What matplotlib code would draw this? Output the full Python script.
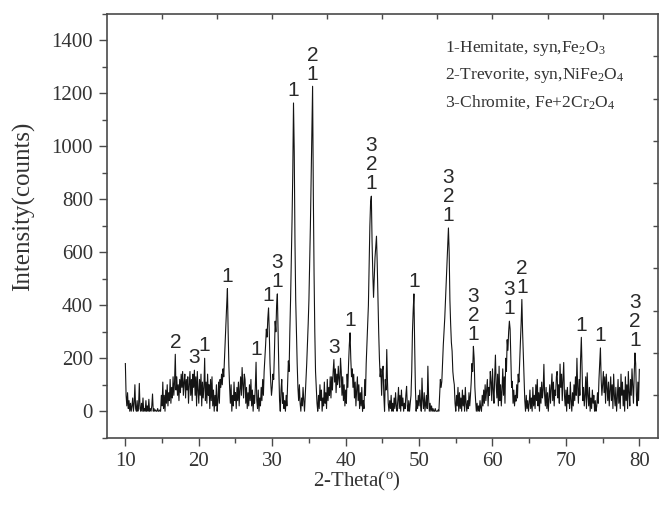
import numpy as np
import matplotlib
matplotlib.use("Agg")
import matplotlib.pyplot as plt
from matplotlib.ticker import MultipleLocator, NullFormatter

plt.rcParams["mathtext.fontset"] = "custom"
plt.rcParams["mathtext.rm"] = "Liberation Serif"
plt.rcParams["mathtext.it"] = "Liberation Serif"

# XRD scan: 2-theta from 10 to 80 degrees, step 0.1
two_theta = np.round(np.arange(100, 801) * 0.1, 1)

counts = [
    180, 60, 20, 70, 10, 40, 0, 30, 0, 20,            # 10
    50, 0, 30, 100, 10, 0, 40, 0, 20, 105,            # 11
    10, 0, 30, 0, 50, 0, 10, 0, 40, 0,                # 12
    20, 0, 45, 0, 10, 0, 20, 65, 0, 10,               # 13
    0, 5, 0, 0, 10, 0, 0, 5, 0, 60,                   # 14
    20, 110, 10, 60, 0, 80, 30, 100, 20, 70,          # 15
    40, 120, 30, 90, 50, 130, 60, 110, 215, 80,       # 16
    130, 60, 100, 40, 120, 70, 140, 90, 150, 60,      # 17
    110, 140, 50, 120, 80, 130, 30, 100, 150, 60,     # 18
    120, 40, 140, 90, 155, 60, 130, 20, 150, 80,      # 19
    30, 120, 60, 140, 20, 110, 50, 90, 200, 40,       # 20
    110, 30, 140, 60, 100, 10, 120, 40, 130, 20,      # 21
    80, 0, 60, 20, 100, 0, 40, 110, 30, 120,          # 22
    90, 140, 100, 160, 130, 200, 260, 330, 400, 463,  # 23
    300, 170, 90, 30, 100, 0, 60, 20, 110, 40,        # 24
    70, 10, 90, 40, 110, 20, 80, 130, 60, 165,        # 25
    100, 50, 140, 120, 30, 90, 10, 70, 20, 100,       # 26
    40, 120, 20, 80, 0, 60, 30, 90, 185, 40,          # 27
    10, 80, 0, 50, 20, 90, 40, 120, 60, 150,          # 28
    200, 250, 310, 280, 350, 390, 300, 180, 110, 60,  # 29
    90, 140, 120, 220, 340, 300, 400, 443, 290, 160,  # 30
    40, 0, 80, 120, 30, 70, 10, 40, 0, 60,            # 31
    20, 110, 190, 150, 300, 420, 560, 720, 900, 1164, # 32
    980, 640, 420, 300, 180, 90, 40, 100, 30, 0,      # 33
    50, 20, 90, 40, 0, 60, 120, 180, 250, 330,        # 34
    420, 560, 700, 880, 1080, 1227, 820, 520, 300, 150,  # 35
    90, 30, 0, 60, 10, 100, 40, 80, 0, 50,            # 36
    20, 110, 30, 70, 10, 120, 40, 90, 60, 130,        # 37
    50, 130, 80, 150, 195, 110, 160, 70, 140, 100,    # 38
    170, 120, 90, 200, 150, 60, 130, 40, 100, 20,     # 39
    80, 30, 140, 90, 180, 250, 296, 200, 130, 160,    # 40
    90, 140, 50, 110, 20, 80, 130, 40, 100, 10,       # 41
    70, 20, 90, 0, 40, 10, 120, 60, 180, 250,         # 42
    320, 400, 560, 700, 790, 812, 640, 520, 430, 500, # 43
    580, 620, 661, 560, 420, 300, 200, 130, 160, 60,  # 44
    150, 170, 60, 0, 120, 80, 233, 110, 30, 0,        # 45
    40, 10, 60, 0, 30, 0, 50, 10, 70, 20,             # 46
    0, 40, 90, 10, 60, 0, 80, 20, 50, 0,              # 47
    30, 10, 60, 94, 20, 0, 40, 0, 30, 60,             # 48
    150, 300, 380, 443, 250, 90, 0, 40, 10, 60,       # 49
    20, 80, 30, 0, 125, 40, 10, 70, 0, 30,            # 50
    60, 10, 170, 50, 0, 30, 0, 20, 0, 10,             # 51
    0, 0, 10, 0, 0, 0, 5, 0, 60, 120,                 # 52
    90, 113, 180, 250, 300, 352, 420, 480, 560, 630,  # 53
    692, 600, 420, 330, 260, 227, 150, 120, 100, 30,  # 54
    0, 60, 20, 90, 0, 70, 10, 50, 0, 80,              # 55
    20, 60, 0, 90, 30, 0, 40, 10, 70, 20,             # 56
    60, 110, 180, 150, 245, 200, 90, 40, 0, 30,       # 57
    0, 20, 0, 40, 10, 0, 60, 20, 80, 30,              # 58
    100, 40, 80, 120, 20, 90, 60, 150, 110, 40,       # 59
    160, 80, 30, 130, 212, 100, 50, 140, 20, 170,     # 60
    40, 100, 20, 80, 160, 60, 130, 30, 200, 150,      # 61
    270, 230, 300, 340, 310, 200, 90, 113, 30, 80,    # 62
    20, 60, 38, 100, 50, 140, 110, 190, 260, 330,     # 63
    422, 300, 215, 120, 40, 0, 60, 10, 40, 0,         # 64
    30, 80, 10, 50, 0, 90, 20, 60, 10, 100,           # 65
    40, 120, 20, 70, 0, 90, 30, 110, 50, 80,          # 66
    177, 60, 20, 90, 10, 70, 0, 50, 100, 30,          # 67
    90, 141, 40, 110, 20, 80, 60, 130, 150, 50,       # 68
    100, 30, 178, 90, 140, 40, 120, 184, 60, 20,      # 69
    80, 0, 90, 30, 60, 10, 110, 40, 0, 70,            # 70
    20, 100, 40, 130, 60, 200, 90, 30, 120, 60,       # 71
    200, 279, 150, 40, 90, 20, 60, 130, 10, 145,      # 72
    60, 20, 90, 0, 50, 10, 80, 30, 60, 0,             # 73
    40, 0, 20, 70, 30, 120, 180, 239, 120, 60,        # 74
    100, 150, 70, 130, 30, 140, 90, 40, 110, 20,      # 75
    80, 130, 40, 100, 10, 140, 60, 20, 90, 0,         # 76
    50, 120, 30, 90, 10, 140, 60, 110, 20, 80,        # 77
    0, 130, 40, 100, 10, 150, 70, 20, 120, 60,        # 78
    160, 90, 30, 140, 220, 180, 60, 20, 110, 40,      # 79
    158,                                              # 80
]

# Phase assignment of the reflections
peak_angles = [16.8, 19.4, 20.8, 23.9, 27.8, 29.5, 30.7, 32.9, 35.5, 38.4,
               40.6, 43.5, 49.3, 54.0, 57.4, 62.3, 64.0, 72.1, 74.7, 79.4]
peak_phases = ["2", "3", "1", "1", "1", "1", "3\n1", "1", "2\n1", "3",
               "1", "3\n2\n1", "1", "3\n2\n1", "3\n2\n1", "3\n1", "2\n1", "1", "1", "3\n2\n1"]

phase_legend = [
    r"1-Hemitate, syn,Fe$_2$O$_3$",
    r"2-Trevorite, syn,NiFe$_2$O$_4$",
    r"3-Chromite, Fe+2Cr$_2$O$_4$",
]

x_ticks = [10, 20, 30, 40, 50, 60, 70, 80]
y_ticks = [0, 200, 400, 600, 800, 1000, 1200, 1400]

serif = "Liberation Serif"
sans = "Liberation Sans"
text_col = "#333333"
frame_col = "#4a4a4a"

fig = plt.figure(figsize=(6.64, 5.07), dpi=100)
ax = fig.add_axes([107 / 664, 1 - 437.7 / 507, 550.7 / 664, 423.7 / 507])

ax.plot(two_theta, counts, color="#141414", lw=0.8)

ax.set_xlim(7.5, 82.5)
ax.set_ylim(-100, 1500)
ax.set_xticks(x_ticks)
ax.set_yticks(y_ticks)
ax.xaxis.set_minor_locator(MultipleLocator(5))
ax.yaxis.set_minor_locator(MultipleLocator(100))
ax.tick_params(which="major", direction="out", length=6, width=1.0,
               color=frame_col, labelsize=15, labelcolor=text_col, pad=4)
ax.tick_params(which="minor", direction="out", length=3.5, width=1.0, color=frame_col)
for lab in ax.get_xticklabels() + ax.get_yticklabels():
    lab.set_fontfamily(serif)
for sp in ax.spines.values():
    sp.set_color(frame_col)
    sp.set_linewidth(1.2)

# inward ticks on top and right frame, ten equal divisions
top = ax.secondary_xaxis("top", functions=(lambda x: (x - 7.5) / 7.5, lambda u: 7.5 + 7.5 * u))
top.set_xticks(range(1, 10))
top.xaxis.set_major_formatter(NullFormatter())
top.tick_params(direction="in", length=3.5, width=1.0, color=frame_col)
right = ax.secondary_yaxis("right", functions=(lambda y: (y + 100) / 160, lambda v: v * 160 - 100))
right.set_yticks(range(1, 10))
right.yaxis.set_major_formatter(NullFormatter())
right.tick_params(direction="in", length=3.5, width=1.0, color=frame_col)
for s in (top, right):
    for sp in s.spines.values():
        sp.set_visible(False)

ax.set_xlabel("2-Theta($^{\\rm o}$)", fontsize=15, family=serif, color=text_col)
ax.set_ylabel("Intensity(counts)", fontsize=18, family=serif, color=text_col)
ax.xaxis.set_label_coords((356.7 - 107) / 550.7, -0.075)
ax.yaxis.set_label_coords(-(107 - 35) / 550.7, 0.547)

# phase numbers above each reflection
tt = np.asarray(two_theta)
cc = np.asarray(counts)
for ang, lab in zip(peak_angles, peak_phases):
    sel = np.abs(tt - ang) <= 0.15
    top_val = cc[sel].max()
    ax.annotate(lab, xy=(ang, top_val), xytext=(0, 2), textcoords="offset points",
                ha="center", va="bottom", fontsize=15, family=sans,
                color="#2a2a2a", linespacing=1.0)

for i, line in enumerate(phase_legend):
    fig.text(445 / 664, 1 - (51.5 + 27.3 * i) / 507, line, fontsize=12.6,
             family=serif, color=text_col, ha="left", va="baseline")

fig.savefig("out.png", dpi=100)
